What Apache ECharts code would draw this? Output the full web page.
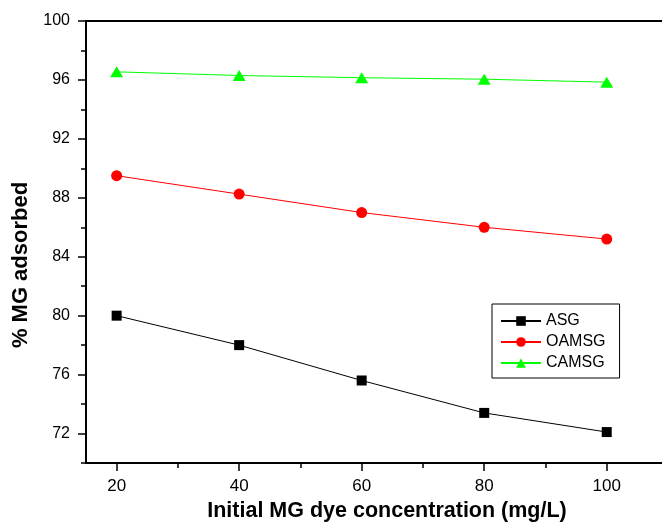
<!DOCTYPE html>
<html>
<head>
<meta charset="utf-8">
<script src="https://cdn.jsdelivr.net/npm/echarts@6/dist/echarts.min.js"></script>
<style>
  html, body { margin: 0; padding: 0; background: #fff; }
  #main { width: 662px; height: 530px; }
</style>
</head>
<body>
<div id="main"></div>
<script>
  // 初始染料浓度 (mg/L)
  var conc = [20, 40, 60, 80, 100];
  var asg = [80.0, 78.0, 75.6, 73.4, 72.1];
  var oamsg = [89.5, 88.25, 87.0, 86.0, 85.2];
  var camsg = [96.55, 96.3, 96.15, 96.05, 95.85];

  // 刻度
  var xMajor = [20, 40, 60, 80, 100];
  var xMinor = [30, 50, 70, 90];
  var yMajor = [72, 76, 80, 84, 88, 92, 96, 100];
  var yMinor = [70, 74, 78, 82, 86, 90, 94, 98];

  function pairs(ys) {
    return conc.map(function (x, i) { return [x, ys[i]]; });
  }

  var font = 'Liberation Sans, Arial, sans-serif';
  var myChart = echarts.init(document.getElementById('main'), null, {renderer: 'canvas'});

  var option = {
    backgroundColor: '#fff',
    animation: false,
    grid: {
      left: 86,
      top: 21,
      width: 582,
      height: 442,
      outerBoundsMode: 'none',
      containLabel: false,
      show: true,
      borderColor: '#000',
      borderWidth: 2
    },
    legend: {
      orient: 'vertical',
      left: 492,
      top: 304,
      padding: [9, 14, 7, 8],
      itemGap: 5,
      itemWidth: 40,
      itemHeight: 12,
      borderColor: '#000',
      borderWidth: 1,
      textStyle: {fontFamily: font, fontSize: 16, color: '#000'},
      data: ['ASG', 'OAMSG', 'CAMSG']
    },
    xAxis: [{
      type: 'value',
      min: 15,
      max: 110,
      name: 'Initial MG dye concentration (mg/L)',
      nameLocation: 'middle',
      nameGap: 34,
      nameTextStyle: {fontFamily: font, fontSize: 21.5, fontWeight: 'bold', color: '#000', padding: [0, 0, 0, 20]},
      splitLine: {show: false},
      axisLine: {lineStyle: {color: '#000', width: 2}},
      axisTick: {show: true, length: 8, lineStyle: {color: '#000', width: 1.5}, customValues: xMajor},
      axisLabel: {fontFamily: font, fontSize: 17, color: '#000', margin: 15, customValues: xMajor}
    }, {
      type: 'value',
      position: 'bottom',
      min: 15,
      max: 110,
      splitLine: {show: false},
      axisLine: {show: false},
      axisTick: {show: true, length: 5, lineStyle: {color: '#000', width: 1.5}, customValues: xMinor},
      axisLabel: {show: false}
    }],
    yAxis: [{
      type: 'value',
      min: 70,
      max: 100,
      name: '% MG adsorbed',
      nameLocation: 'middle',
      nameGap: 54,
      nameTextStyle: {fontFamily: font, fontSize: 22, fontWeight: 'bold', color: '#000', padding: [0, 46, 0, 0]},
      splitLine: {show: false},
      axisLine: {lineStyle: {color: '#000', width: 2}},
      axisTick: {show: true, length: 8, lineStyle: {color: '#000', width: 1.5}, customValues: yMajor},
      axisLabel: {fontFamily: font, fontSize: 16, color: '#000', margin: 16, customValues: yMajor}
    }, {
      type: 'value',
      position: 'left',
      min: 70,
      max: 100,
      splitLine: {show: false},
      axisLine: {show: false},
      axisTick: {show: true, length: 5, lineStyle: {color: '#000', width: 1.5}, customValues: yMinor},
      axisLabel: {show: false}
    }],
    series: [{
      name: 'ASG',
      type: 'line',
      data: pairs(asg),
      symbol: 'rect',
      symbolSize: 10,
      lineStyle: {color: '#000', width: 1},
      itemStyle: {color: '#000'}
    }, {
      name: 'OAMSG',
      type: 'line',
      data: pairs(oamsg),
      symbol: 'circle',
      symbolSize: 11,
      lineStyle: {color: '#ff0000', width: 1},
      itemStyle: {color: '#ff0000'}
    }, {
      name: 'CAMSG',
      type: 'line',
      data: pairs(camsg),
      symbol: 'triangle',
      symbolSize: [13, 11],
      lineStyle: {color: '#00ff00', width: 1},
      itemStyle: {color: '#00ff00'}
    }]
  };

  myChart.setOption(option);
</script>
</body>
</html>
